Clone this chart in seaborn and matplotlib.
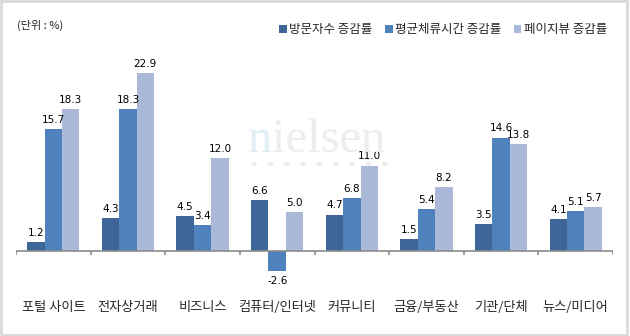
import numpy as np
import pandas as pd
import matplotlib
matplotlib.use("Agg")
import matplotlib.pyplot as plt
import seaborn as sns
from matplotlib.patches import Rectangle

categories = ["포털 사이트", "전자상거래", "비즈니스", "컴퓨터/인터넷", "커뮤니티", "금융/부동산", "기관/단체", "뉴스/미디어"]
series_names = ["방문자수 증감률", "평균체류시간 증감률", "페이지뷰 증감률"]
visits = [1.2, 4.3, 4.5, 6.6, 4.7, 1.5, 3.5, 4.1]
stay_time = [15.7, 18.3, 3.4, -2.6, 6.8, 5.4, 14.6, 5.1]
page_views = [18.3, 22.9, 12.0, 5.0, 11.0, 8.2, 13.8, 5.7]
colors = ["#3F6698", "#4F81BD", "#AAB9D7"]

df = pd.DataFrame({
    "category": categories * 3,
    "series": [series_names[0]] * 8 + [series_names[1]] * 8 + [series_names[2]] * 8,
    "value": visits + stay_time + page_views,
})

sns.set_theme(style="white")
plt.rcParams["font.family"] = ["Noto Sans CJK KR", "DejaVu Sans"]

fig = plt.figure(figsize=(6.3, 3.36), dpi=100)
ax = fig.add_axes([16 / 630, 1 - 290 / 336, (613 - 16) / 630, (290 - 56.7) / 336])

# watermark
t_n = fig.text(248 / 630, 1 - 152 / 336, "n", family="Liberation Serif", fontsize=35,
               color="#E2EFF4", ha="left", va="baseline", zorder=0)
fig.canvas.draw()
bb = t_n.get_window_extent(renderer=fig.canvas.get_renderer())
fig.text(bb.x1 / fig.bbox.width, 1 - 152 / 336, "ielsen", family="Liberation Serif",
         fontsize=35, color="#EDEDED", ha="left", va="baseline", zorder=0)
for dx in np.linspace(254, 385, 9):
    fig.patches.append(plt.Circle((dx / 630, 1 - 164 / 336), 2.2 / 630,
                                  transform=fig.transFigure, color="#EBEBEB", zorder=0))

sns.barplot(data=df, x="category", y="value", hue="series", order=categories,
            hue_order=series_names, palette=colors, saturation=1, width=0.7,
            linewidth=0, edgecolor="none", ax=ax, zorder=3)

for cont in ax.containers:
    ax.bar_label(cont, fmt="%.1f", fontsize=7.5, padding=3, color="#000000",
                 family=["DejaVu Sans"])

ax.set_xlim(-0.5, 7.5)
ax.set_ylim(-5, 25)
ax.axhline(0, color="#8C8C8C", lw=1.2, zorder=4)
ax.vlines(np.arange(-0.5, 8.0, 1.0), -0.45, 0, color="#8C8C8C", lw=1.2, zorder=4)

for s in ax.spines.values():
    s.set_visible(False)
ax.set_yticks([])
ax.set_xlabel("")
ax.set_ylabel("")
ax.tick_params(axis="x", length=0, pad=8, labelsize=9.5)
ax.set_facecolor("none")

leg = ax.get_legend()
handles, labels = ax.get_legend_handles_labels()
leg.remove()
fig.legend(handles, labels, loc="center right", bbox_to_anchor=(612 / 630, 1 - 30 / 336),
           ncol=3, frameon=False, fontsize=9, handlelength=0.6, handleheight=0.6,
           handletextpad=0.2, columnspacing=1.0, borderaxespad=0)

fig.text(17 / 630, 1 - 25 / 336, "(단위 : %)", fontsize=8, ha="left", va="center")

fig.patches.append(Rectangle((0.0015, 0.003), 0.994, 0.994, transform=fig.transFigure,
                             fill=False, edgecolor="#D9D9D9", lw=2))

fig.savefig("out.png", dpi=100)
